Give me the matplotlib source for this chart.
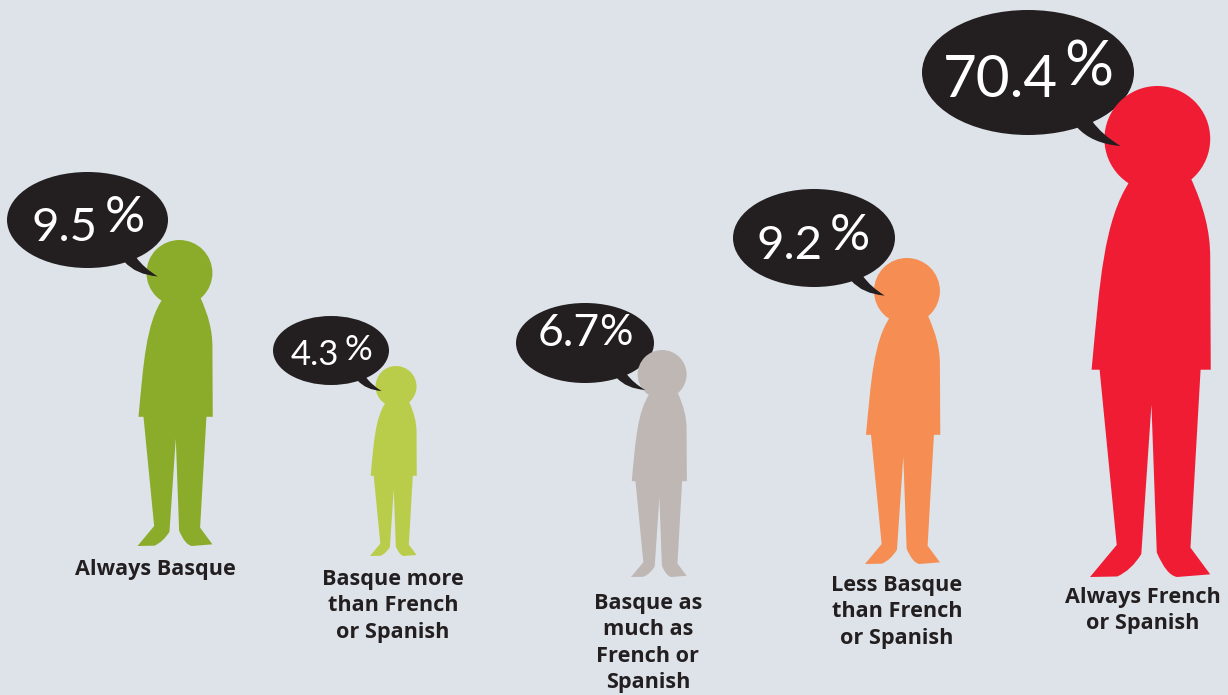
#!/usr/bin/env python3
# Language use pictogram: one person per group, with a speech bubble for the share
import matplotlib
matplotlib.use("Agg")
import matplotlib.pyplot as plt
from matplotlib.path import Path
from matplotlib.patches import PathPatch, Ellipse
from matplotlib.transforms import Affine2D

# Data
groups = ["Always Basque", "Basque more\nthan French\nor Spanish", "Basque as\nmuch as\nFrench or\nSpanish",
          "Less Basque\nthan French\nor Spanish", "Always French\nor Spanish"]
shares = [9.5, 4.3, 6.7, 9.2, 70.4]

# Styles and layout, all in image pixels
colors = ["#8BAC2B", "#B9CD4A", "#BFB7B4", "#F68D52", "#EF1C33"]
person_left = [137.5, 370, 631, 865, 1090]
person_top = [240, 366, 350, 258, 86]
person_height = [306, 190, 227, 306, 491]
bubble_box = [(7, 172, 168, 268), (273, 316, 389, 385), (516, 303, 654, 383),
              (733, 189, 895, 287), (922, 10, 1134, 135)]
number_size = [34, 25, 32, 34, 42]
percent_size = [36, 25, 30, 36, 44]
number_x = [64, 315, 569, 790, 1000]
number_y = [241, 365, 346, 259, 97]
percent_x = [124.5, 358, 616, 850, 1089]
percent_y = [218, 350, 333, 236, 68]
label_x = [155, 393, 648, 897, 1143]
label_top = [559, 569, 593, 575, 587]
label_size = 15.6

INK = "#231F20"
BACKGROUND = "#DDE3E9"

plt.rcParams["font.family"] = ["Open Sans", "DejaVu Sans"]

fig = plt.figure(figsize=(12.28, 6.95), dpi=100, facecolor=BACKGROUND)
ax = fig.add_axes([0, 0, 1, 1])
ax.set_xlim(0, 1228)
ax.set_ylim(695, 0)
ax.axis("off")

# Person outline, traced once from the first figure and rescaled for the others
M, L, C3, C4, Z = Path.MOVETO, Path.LINETO, Path.CURVE3, Path.CURVE4, Path.CLOSEPOLY
body_verts = [(600, 410), (625, 465), (637, 510), (637, 560), (638, 770), (619, 770), (600, 1103),
              (637, 1153), (575, 1158), (555, 1155), (537, 1112), (527, 835), (508, 1115),
              (490, 1145), (463, 1157), (412, 1158), (462, 1098), (430, 770), (415, 770),
              (430, 610), (437, 490), (488, 415), (600, 410)]
body_codes = [M, C4, C4, C4, L, L, L, L, L, C3, C3, L, L, C3, C3, L, L, L, L, C4, C4, C4, Z]
body_path = Path(body_verts, body_codes)
head_path = Path.circle((538, 338), 99)

for i, share in enumerate(shares):
    scale = person_height[i] / (1158 - 239)
    to_pixels = (Affine2D().translate(-412, -239).scale(scale)
                 .translate(person_left[i], person_top[i]) + ax.transData)

    # bubble goes behind the head, its tail goes over it
    x0, y0, x1, y1 = bubble_box[i]
    w, h = x1 - x0, y1 - y0
    ax.add_patch(Ellipse(((x0 + x1) / 2, (y0 + y1) / 2), w, h, color=INK, lw=0, zorder=1))
    ax.add_patch(PathPatch(body_path, fc=colors[i], lw=0, transform=to_pixels, zorder=2))
    ax.add_patch(PathPatch(head_path, fc=colors[i], lw=0, transform=to_pixels, zorder=2))

    tail = Path([(x0 + .70 * w, y0 + .90 * h), (x0 + .729 * w, y0 + .934 * h),
                 (x0 + .80 * w, y0 + 1.07 * h), (x0 + .937 * w, y0 + 1.088 * h),
                 (x0 + .85 * w, y0 + 1.0 * h), (x0 + .803 * w, y0 + .89 * h),
                 (x0 + .70 * w, y0 + .90 * h)],
                [M, L, C3, C3, C3, C3, Z])
    ax.add_patch(PathPatch(tail, fc=INK, lw=0, zorder=3))

    ax.text(number_x[i], number_y[i], f"{share}", color="white", fontsize=number_size[i],
            family="Lato", ha="center", va="baseline", zorder=4)
    ax.text(percent_x[i], percent_y[i], "%", color="white", fontsize=percent_size[i],
            family="Lato", ha="center", va="center", zorder=4)

    ax.text(label_x[i], label_top[i], groups[i], color=INK, fontsize=label_size, fontweight="bold",
            ha="center", va="top", linespacing=1.34, zorder=4)

plt.savefig("out.png", dpi=100, facecolor=BACKGROUND)
